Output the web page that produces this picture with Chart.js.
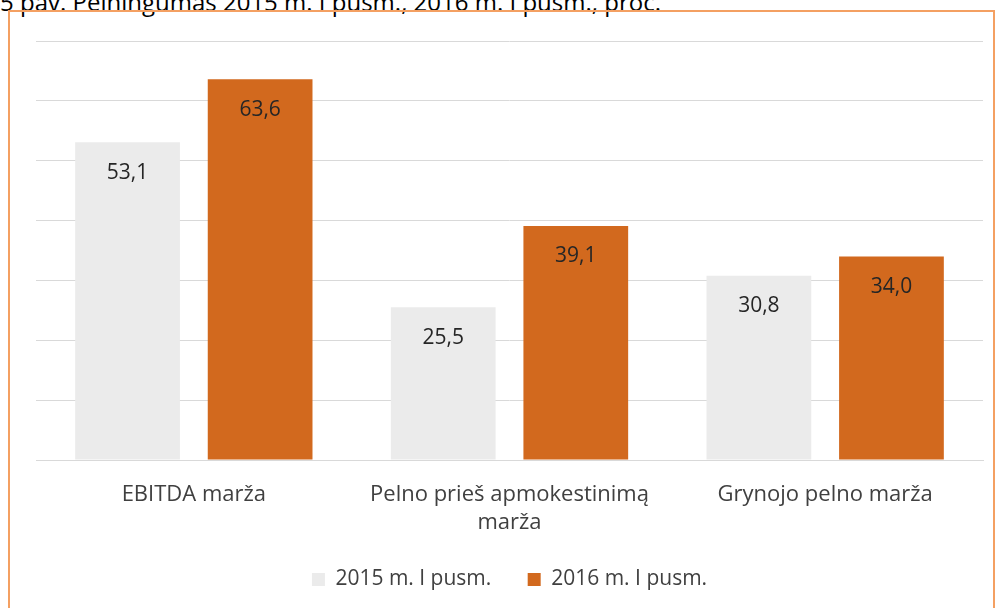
<!DOCTYPE html>
<html>
<head>
<meta charset="utf-8">
<script src="https://cdn.jsdelivr.net/npm/chart.js@4.4.0/dist/chart.umd.min.js"></script>
<style>
  body { margin: 0; background: #fff; width: 1000px; height: 608px; overflow: hidden; position: relative; font-family: "Open Sans", sans-serif; }
  #title { position: absolute; left: 0px; top: -15px; font-size: 24px; color: #000; white-space: nowrap; }
  #box { position: absolute; left: 8px; top: 10px; width: 987px; height: 610px; border: 2px solid #F4A062; box-sizing: border-box; }
  #chart { display: block; }
</style>
</head>
<body>
<div id="title">5 pav. Pelningumas 2015 m. I pusm., 2016 m. I pusm., proc.</div>
<div id="box"><canvas id="chart" width="983" height="606"></canvas></div>
<script>
const categories = [['EBITDA marža'], ['Pelno prieš apmokestinimą', 'marža'], ['Grynojo pelno marža']];
const values2015 = [53.1, 25.5, 30.8];
const values2016 = [63.6, 39.1, 34.0];
const seriesNames = ['2015 m. I pusm.', '2016 m. I pusm.'];

const FONT = '"Open Sans", sans-serif';

// vertės juostose, prie viršaus
const barLabels = {
  id: 'barLabels',
  afterDatasetsDraw(chart) {
    const ctx = chart.ctx;
    ctx.save();
    ctx.font = '21px ' + FONT;
    ctx.fillStyle = '#262626';
    ctx.textAlign = 'center';
    ctx.textBaseline = 'top';
    chart.data.datasets.forEach((ds, i) => {
      chart.getDatasetMeta(i).data.forEach((bar, j) => {
        ctx.fillText(ds.data[j].toFixed(1).replace('.', ','), bar.x, bar.y + 20);
      });
    });
    ctx.restore();
  }
};

new Chart(document.getElementById('chart'), {
  type: 'bar',
  data: {
    labels: categories,
    datasets: [
      { label: seriesNames[0], data: values2015, backgroundColor: '#EBEBEB' },
      { label: seriesNames[1], data: values2016, backgroundColor: '#D2691E' }
    ]
  },
  options: {
    responsive: false,
    animation: false,
    devicePixelRatio: 1,
    categoryPercentage: 0.84,
    barPercentage: 0.79,
    layout: { padding: { left: 26, right: 10, top: 29, bottom: 18 } },
    scales: {
      x: {
        grid: { display: false },
        border: { color: '#D9D9D9', width: 1 },
        ticks: { color: '#404040', font: { family: FONT, size: 22, lineHeight: 1.25 }, padding: 13, maxRotation: 0 }
      },
      y: {
        min: 0, max: 70,
        ticks: { display: false, stepSize: 10 },
        grid: { color: '#D9D9D9', drawTicks: false },
        border: { display: false }
      }
    },
    plugins: {
      legend: {
        position: 'bottom',
        labels: {
          color: '#404040', font: { family: FONT, size: 21 }, boxWidth: 13, boxHeight: 13, padding: 20,
          // tarpas tarp legendos elementų platesnis
          generateLabels(chart) {
            const items = Chart.defaults.plugins.legend.labels.generateLabels(chart);
            items[0].text += '   ';
            return items;
          }
        }
      },
      tooltip: { enabled: false }
    }
  },
  plugins: [barLabels]
});
</script>
</body>
</html>
